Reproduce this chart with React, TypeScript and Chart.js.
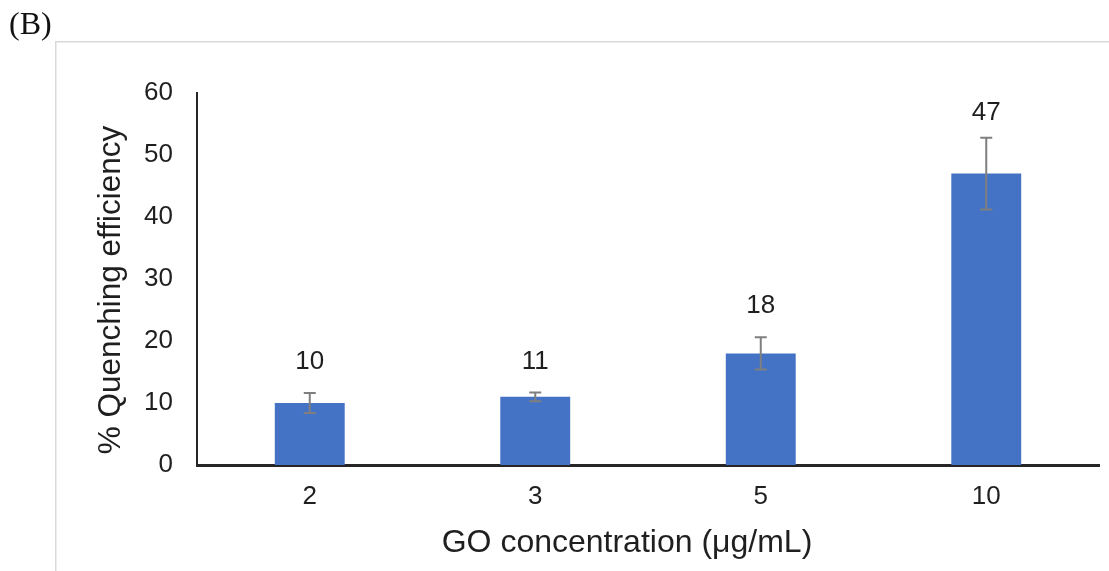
import React, { useEffect, useRef } from "react";
import { Chart, registerables } from "chart.js";

Chart.register(...registerables);

const categories = ["2", "3", "5", "10"];
const values = [10, 11, 18, 47];
const errors = [1.6, 0.7, 2.6, 5.8];
const yMin = 0;
const yMax = 60;
const yStep = 10;
const xTitle = "GO concentration (μg/mL)";
const yTitle = "% Quenching efficiency";
const panelLabel = "(B)";

const TEXT = "#1f1f1f";
const SANS = '"Liberation Sans", Arial, sans-serif';

const overlayPlugin = {
  id: "overlay",
  beforeDraw(chart: any) {
    const ctx = chart.ctx as CanvasRenderingContext2D;
    ctx.save();
    ctx.fillStyle = "#ffffff";
    ctx.fillRect(0, 0, chart.width, chart.height);
    // frame
    ctx.strokeStyle = "#d9d9d9";
    ctx.lineWidth = 1.5;
    ctx.beginPath();
    ctx.moveTo(55.75, chart.height);
    ctx.lineTo(55.75, 41.75);
    ctx.lineTo(chart.width, 41.75);
    ctx.stroke();
    // panel label
    ctx.fillStyle = "#111111";
    ctx.font = '32px "Liberation Serif", "Times New Roman", serif';
    ctx.textAlign = "left";
    ctx.textBaseline = "alphabetic";
    ctx.fillText(panelLabel, 9, 34);
    ctx.restore();
  },
  afterDatasetsDraw(chart: any) {
    const ctx = chart.ctx as CanvasRenderingContext2D;
    const meta = chart.getDatasetMeta(0);
    const ys = chart.scales.y;
    ctx.save();
    meta.data.forEach((bar: any, i: number) => {
      const x = bar.x;
      const top = ys.getPixelForValue(values[i] + errors[i]);
      const bot = ys.getPixelForValue(values[i] - errors[i]);
      ctx.strokeStyle = "#7f7f7f";
      ctx.lineWidth = 2;
      ctx.beginPath();
      ctx.moveTo(x, top);
      ctx.lineTo(x, bot);
      ctx.moveTo(x - 6, top);
      ctx.lineTo(x + 6, top);
      ctx.moveTo(x - 6, bot);
      ctx.lineTo(x + 6, bot);
      ctx.stroke();
      ctx.fillStyle = TEXT;
      ctx.font = "26px " + SANS;
      ctx.textAlign = "center";
      ctx.textBaseline = "middle";
      const labelY = Math.max(top - 31, ys.getPixelForValue(values[i]) - 61);
      ctx.fillText(String(values[i]), x, labelY);
    });
    // axis titles
    ctx.fillStyle = TEXT;
    ctx.textAlign = "center";
    ctx.textBaseline = "middle";
    ctx.font = "32px " + SANS;
    ctx.fillText(xTitle, 627, 543);
    ctx.font = "31.5px " + SANS;
    ctx.translate(111, 290);
    ctx.rotate(-Math.PI / 2);
    ctx.fillText(yTitle, 0, 0);
    ctx.restore();
  },
};

export default function App() {
  const ref = useRef<HTMLCanvasElement | null>(null);
  useEffect(() => {
    if (!ref.current) return;
    const chart = new Chart(ref.current, {
      type: "bar",
      data: {
        labels: categories,
        datasets: [
          {
            data: values,
            backgroundColor: "#4472C4",
            borderWidth: 0,
            categoryPercentage: 1,
            barPercentage: 0.31,
          },
        ],
      },
      options: {
        responsive: false,
        animation: false,
        layout: { padding: { left: 0, top: 93, right: 10, bottom: 0 } },
        plugins: {
          legend: { display: false },
          tooltip: { enabled: false },
          title: { display: false },
        },
        scales: {
          x: {
            z: 1,
            grid: { display: false, drawTicks: false },
            border: { display: true, color: "#262626", width: 3 },
            ticks: { color: TEXT, font: { size: 26, family: SANS }, padding: 16 },
            afterFit(scale: any) {
              scale.height = 106;
            },
          },
          y: {
            min: yMin,
            max: yMax,
            grid: { display: false, drawTicks: false },
            border: { display: true, color: "#262626", width: 2 },
            ticks: { stepSize: yStep, color: TEXT, font: { size: 26, family: SANS }, padding: 24 },
            afterFit(scale: any) {
              scale.width = 197;
            },
          },
        },
      },
      plugins: [overlayPlugin],
    });
    return () => chart.destroy();
  }, []);
  return (
    <div style={{ position: "absolute", left: 0, top: 0, width: 1109, height: 571 }}>
      <canvas ref={ref} width={1109} height={571} style={{ width: 1109, height: 571 }} />
    </div>
  );
}
